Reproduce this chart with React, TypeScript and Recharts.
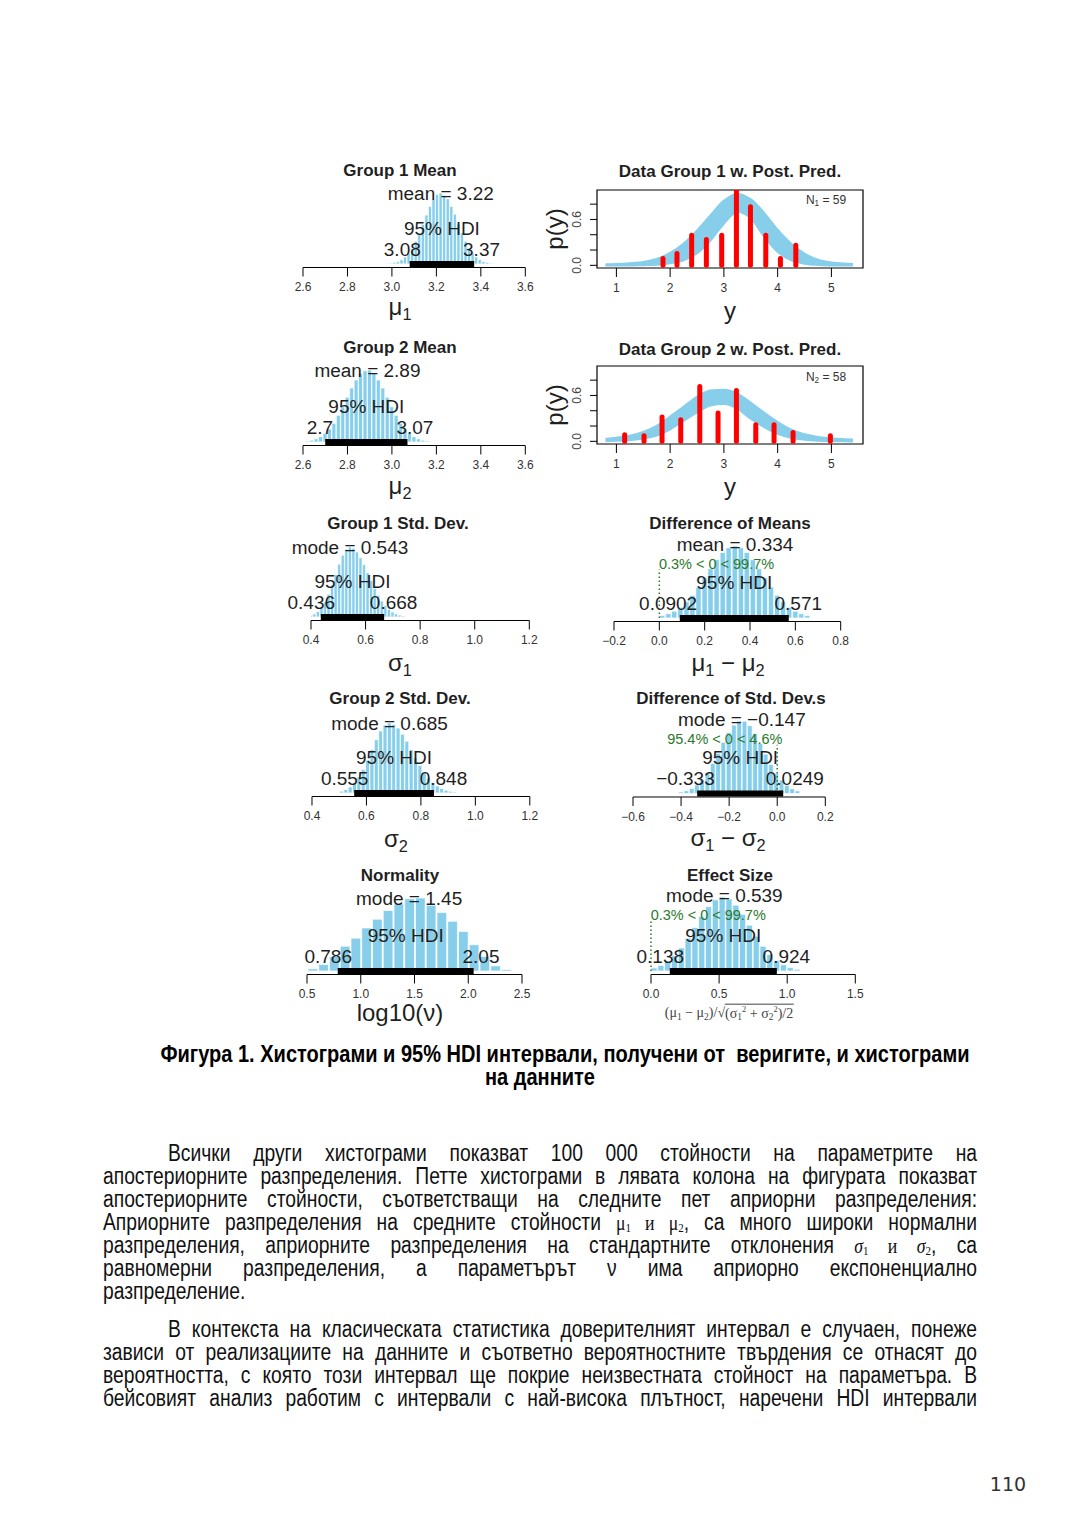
import React from "react";
import {
  ComposedChart,
  Bar,
  Area,
  XAxis,
  YAxis,
  ReferenceLine,
  ReferenceDot,
  ReferenceArea,
} from "recharts";

const SANS = '"Liberation Sans", Arial, Helvetica, sans-serif';
const SERIF = '"Liberation Serif", "DejaVu Serif", serif';
const SKY = "#87ceeb";
const INK = "#1f1f1f";
const GREEN = "#2b7a2b";
const RED = "#ff0000";

// ---- Group 1 Mean (mu1)
const mu1Bins = [2.98, 2.996, 3.012, 3.028, 3.044, 3.06, 3.076, 3.092, 3.108, 3.124, 3.14, 3.156, 3.172, 3.188, 3.204, 3.22, 3.236, 3.252, 3.268, 3.284, 3.3, 3.316, 3.332, 3.348, 3.364, 3.38, 3.396, 3.412, 3.428, 3.444, 3.46];
const mu1Counts = [0.5, 1, 2, 3.5, 6, 10, 15, 22, 32, 43, 56, 69, 81, 91, 98, 100, 97, 92, 81, 70, 56, 44, 32, 22, 15, 10, 6, 3.5, 2, 1, 0.5];
const mu1Hdi = [3.08, 3.37];

// ---- Group 2 Mean (mu2)
const mu2Bins = [2.62, 2.64, 2.66, 2.68, 2.7, 2.72, 2.74, 2.76, 2.78, 2.8, 2.82, 2.84, 2.86, 2.88, 2.9, 2.92, 2.94, 2.96, 2.98, 3.0, 3.02, 3.04, 3.06, 3.08, 3.1, 3.12, 3.14, 3.16];
const mu2Counts = [1.4, 2.5, 4.4, 7.4, 12, 18, 26, 37, 49, 62, 75, 86, 95, 99, 100, 95, 86, 75, 62, 49, 37, 26, 18, 12, 7.4, 4.4, 2.5, 1.4];
const mu2Hdi = [2.7, 3.07];
const meanTicks = [2.6, 2.8, 3.0, 3.2, 3.4, 3.6];

// ---- Group 1 Std. Dev. (sigma1)
const sd1Bins = [0.4, 0.413, 0.426, 0.439, 0.452, 0.465, 0.478, 0.491, 0.504, 0.517, 0.53, 0.543, 0.556, 0.569, 0.582, 0.595, 0.608, 0.621, 0.634, 0.647, 0.66, 0.673, 0.686, 0.699, 0.712, 0.725, 0.738];
const sd1Counts = [2.3, 4.4, 8, 13.5, 21.6, 32.5, 45.8, 60.7, 75.5, 88.2, 96.9, 100, 98.2, 92.9, 84.8, 74.8, 63.3, 51.7, 40.8, 31, 22.8, 16.2, 11, 7.3, 4.5, 2.8, 1.6];
const sd1Hdi = [0.436, 0.668];

// ---- Group 2 Std. Dev. (sigma2)
const sd2Bins = [0.509, 0.525, 0.541, 0.557, 0.573, 0.589, 0.605, 0.621, 0.637, 0.653, 0.669, 0.685, 0.701, 0.717, 0.733, 0.749, 0.765, 0.781, 0.797, 0.813, 0.829, 0.845, 0.861, 0.877, 0.893, 0.909, 0.925];
const sd2Counts = [2.6, 4.8, 8.5, 14.3, 22.7, 33.4, 46.9, 61.7, 76.1, 88.7, 97, 100, 98, 92.7, 84, 73.8, 61.9, 50.4, 39.2, 29.6, 21.2, 14.9, 9.9, 6.5, 4, 2.4, 1.4];
const sd2Hdi = [0.555, 0.848];
const sdTicks = [0.4, 0.6, 0.8, 1.0, 1.2];

// ---- Difference of Means
const dmBins = [0.014, 0.041, 0.067, 0.094, 0.121, 0.147, 0.174, 0.201, 0.227, 0.254, 0.281, 0.307, 0.334, 0.361, 0.387, 0.414, 0.441, 0.467, 0.494, 0.521, 0.547, 0.574, 0.601, 0.627, 0.654];
const dmCounts = [3.4, 5.9, 9.5, 14.9, 22.4, 31.5, 42.9, 55.8, 68.5, 81, 91, 97.6, 100, 97.6, 91, 81, 68.5, 55.8, 42.9, 31.5, 22.4, 14.9, 9.5, 5.9, 3.4];
const dmHdi = [0.0902, 0.571];
const dmTicks = [-0.2, 0.0, 0.2, 0.4, 0.6, 0.8];

// ---- Difference of Std. Dev.s
const dsBins = [-0.399, -0.377, -0.355, -0.333, -0.311, -0.289, -0.267, -0.245, -0.223, -0.201, -0.179, -0.157, -0.135, -0.113, -0.091, -0.069, -0.047, -0.025, -0.003, 0.019, 0.041, 0.063, 0.085];
const dsCounts = [2, 3.8, 6.9, 11.8, 19, 28.8, 41.2, 55.2, 70.2, 83.5, 93.8, 99.4, 99.1, 93, 82.4, 68.5, 54, 39.7, 27.8, 18.4, 11.3, 6.6, 3.6];
const dsHdi = [-0.333, 0.0249];
const dsTicks = [-0.6, -0.4, -0.2, 0.0, 0.2];

// ---- Normality log10(nu)
const nuBins = [0.55, 0.65, 0.75, 0.85, 0.95, 1.05, 1.15, 1.25, 1.35, 1.45, 1.55, 1.65, 1.75, 1.85, 1.95, 2.05, 2.15, 2.25, 2.35];
const nuCounts = [3, 9, 20, 34, 45, 59, 71, 83, 92, 99, 100, 90, 80, 68, 54, 36, 20, 7, 2];
const nuHdi = [0.786, 2.05];
const nuTicks = [0.5, 1.0, 1.5, 2.0, 2.5];

// ---- Effect Size
const esBins = [0.025, 0.075, 0.125, 0.175, 0.225, 0.275, 0.325, 0.375, 0.425, 0.475, 0.525, 0.575, 0.625, 0.675, 0.725, 0.775, 0.825, 0.875, 0.925, 0.975, 1.025, 1.075];
const esCounts = [4.1, 7.5, 12.8, 20.6, 31.2, 44.3, 58.9, 73.8, 86.9, 96.2, 100, 97.4, 89, 76.6, 61.9, 47, 33.5, 22.4, 14.1, 8.3, 4.6, 2.4];
const esHdi = [0.138, 0.924];
const esTicks = [0.0, 0.5, 1.0, 1.5];

// ---- Posterior predictive bands (envelope of the blue curves) + data histograms
const ppX = [0.8, 1.0, 1.25, 1.5, 1.75, 2.0, 2.25, 2.5, 2.75, 3.0, 3.25, 3.5, 3.75, 4.0, 4.25, 4.5, 4.75, 5.0, 5.25, 5.4];
const pp1Hi = [0.01, 0.015, 0.025, 0.04, 0.08, 0.16, 0.28, 0.45, 0.65, 0.84, 0.93, 0.86, 0.68, 0.46, 0.28, 0.15, 0.07, 0.035, 0.02, 0.015];
const pp1Lo = [0, 0, 0, 0.005, 0.01, 0.03, 0.07, 0.16, 0.33, 0.55, 0.7, 0.62, 0.38, 0.18, 0.07, 0.025, 0.008, 0.002, 0, 0];
const pp2Hi = [0.03, 0.045, 0.07, 0.12, 0.2, 0.32, 0.45, 0.58, 0.66, 0.67, 0.62, 0.5, 0.37, 0.25, 0.15, 0.09, 0.055, 0.035, 0.025, 0.02];
const pp2Lo = [0.005, 0.01, 0.02, 0.04, 0.08, 0.16, 0.27, 0.38, 0.47, 0.49, 0.43, 0.3, 0.19, 0.1, 0.05, 0.025, 0.012, 0.006, 0.003, 0.002];
const d1X = [1.867, 2.127, 2.4, 2.674, 2.959, 3.233, 3.494, 3.779, 4.052, 4.338];
const d1H = [0.088, 0.153, 0.394, 0.337, 0.394, 0.98, 0.765, 0.394, 0.088, 0.262];
const d2X = [1.154, 1.514, 1.849, 2.197, 2.551, 2.891, 3.233, 3.593, 3.933, 4.287, 4.981];
const d2H = [0.087, 0.074, 0.318, 0.283, 0.717, 0.37, 0.665, 0.218, 0.218, 0.117, 0.074];
const ppXTicks = [1, 2, 3, 4, 5];
const ppYTicks = [0, 0.2, 0.4, 0.6, 0.8];
const ppYLabels = [0, 0.6];
const PP_XDOM: [number, number] = [0.639, 5.588];
const PP_YDOM: [number, number] = [-0.035, 0.985];

let ctx: CanvasRenderingContext2D | null = null;
function textWidth(t: string, size: number) {
  if (!ctx) ctx = document.createElement("canvas").getContext("2d");
  if (!ctx) return t.length * size * 0.55;
  ctx.font = `${size}px "Liberation Sans", Arial, sans-serif`;
  return ctx.measureText(t).width;
}

const fmt1 = (v: number) => (v < 0 ? "\u2212" : "") + Math.abs(v).toFixed(1);

// R-style text() with horizontal adj, lifted `lift` px above the anchor point
const lbl =
  (text: string, adj: number, lift: number, size: number, fill: string) =>
  (p: any) => {
    const vb = p.viewBox || {};
    const cx = (vb.x ?? 0) + (vb.width ?? 0) / 2;
    const cy = (vb.y ?? 0) + (vb.height ?? 0) / 2;
    const w = textWidth(text, size);
    return (
      <text x={cx - adj * w} y={cy - lift} fontSize={size} fontFamily={SANS} fill={fill}>
        {text}
      </text>
    );
  };

function Hist(props: {
  bins: number[];
  counts: number[];
  binWidth: number;
  domain: [number, number];
  ticks: number[];
  x0: number;
  x1: number;
  axisY: number;
  peakPx: number;
  center: number;
  centerText: string;
  hdi: number[];
  hdiText: string[];
  comp?: { below: number; text: string };
}) {
  const ML = 50, MR = 50, MT = 40, XH = 40, GAP = 3.5;
  const plotW = props.x1 - props.x0;
  const top = Math.max(...props.counts);
  const k = props.peakPx / top;
  const plotH = props.peakPx + GAP;
  const data = props.bins.map((x, i) => ({ x, h: props.counts[i] }));
  const barSize = (props.binWidth / (props.domain[1] - props.domain[0])) * plotW;
  const [lo, hi] = props.hdi;
  // keep the central-tendency label clear of the green comparison label
  const centerLift = props.comp ? 2.5 : 0;
  return (
    <div style={{ position: "absolute", left: props.x0 - ML, top: props.axisY - plotH - MT }}>
      <ComposedChart
        width={ML + plotW + MR}
        height={MT + plotH + XH}
        data={data}
        margin={{ top: MT, right: MR, bottom: 0, left: ML }}
      >
        <XAxis
          type="number"
          dataKey="x"
          domain={props.domain}
          ticks={props.ticks}
          interval={0}
          allowDataOverflow
          height={XH}
          tickSize={9}
          tickMargin={6}
          tickFormatter={fmt1}
          tick={{ fill: "#333", fontSize: 12, fontFamily: SANS }}
          axisLine={{ stroke: "#000" }}
          tickLine={{ stroke: "#000" }}
        />
        <YAxis type="number" hide domain={[-GAP / k, top]} allowDataOverflow />
        <Bar dataKey="h" fill={SKY} stroke="#fff" strokeWidth={0.7} barSize={barSize} isAnimationActive={false} />
        {props.comp && (
          <ReferenceLine
            segment={[{ x: 0, y: 0 }, { x: 0, y: 0.672 * top }]}
            stroke={GREEN}
            strokeWidth={1.5}
            strokeDasharray="1.5 2.5"
          />
        )}
        <ReferenceLine segment={[{ x: lo, y: 0 }, { x: hi, y: 0 }]} stroke="#000" strokeWidth={6} />
        <ReferenceDot x={props.center} y={0.9 * top} r={0} stroke="none" fill="none" label={lbl(props.centerText, 0.5, centerLift, 19, INK)} />
        {props.comp && (
          <ReferenceDot x={0} y={0.7 * top} r={0} stroke="none" fill="none" label={lbl(props.comp.text, props.comp.below / 100, -1, 14.5, GREEN)} />
        )}
        <ReferenceDot x={(lo + hi) / 2} y={0} r={0} stroke="none" fill="none" label={lbl("95% HDI", 0.5, 29, 19, INK)} />
        <ReferenceDot x={lo} y={0} r={0} stroke="none" fill="none" label={lbl(props.hdiText[0], 0.7, 8, 19, INK)} />
        <ReferenceDot x={hi} y={0} r={0} stroke="none" fill="none" label={lbl(props.hdiText[1], 0.3, 8, 19, INK)} />
      </ComposedChart>
    </div>
  );
}

const rotTick = (p: any) => {
  const { x, y, payload } = p;
  const v = payload.value;
  if (!ppYLabels.some((t) => Math.abs(t - v) < 1e-9)) return <g />;
  return (
    <text x={x} y={y} transform={`rotate(-90 ${x} ${y})`} textAnchor="middle" fontSize={12} fontFamily={SANS} fill="#444">
      {v.toFixed(1)}
    </text>
  );
};

function PostPred(props: {
  left: number;
  right: number;
  top: number;
  bottom: number;
  lo: number[];
  hi: number[];
  dataX: number[];
  dataH: number[];
}) {
  const ML = 60, MR = 10, MT = 10, XH = 40;
  const plotW = props.right - props.left;
  const plotH = props.bottom - props.top;
  const rows = ppX.map((x, i) => ({ x, band: [props.lo[i], props.hi[i]] }));
  return (
    <div style={{ position: "absolute", left: props.left - ML, top: props.top - MT }}>
      <ComposedChart width={ML + plotW + MR} height={MT + plotH + XH} data={rows} margin={{ top: MT, right: MR, bottom: 0, left: 0 }}>
        <XAxis
          type="number"
          dataKey="x"
          domain={PP_XDOM}
          ticks={ppXTicks}
          interval={0}
          allowDataOverflow
          height={XH}
          tickSize={9}
          tickMargin={6}
          axisLine={false}
          tickLine={{ stroke: "#000" }}
          tick={{ fill: "#333", fontSize: 12, fontFamily: SANS }}
        />
        <YAxis
          type="number"
          domain={PP_YDOM}
          ticks={ppYTicks}
          interval={0}
          allowDataOverflow
          width={ML}
          tickSize={7}
          tickMargin={9}
          axisLine={false}
          tickLine={{ stroke: "#000" }}
          tick={rotTick}
        />
        <Area
          dataKey="band"
          type="monotone"
          stroke={SKY}
          strokeWidth={2.5}
          fill={SKY}
          fillOpacity={1}
          dot={false}
          activeDot={false}
          isAnimationActive={false}
        />
        {props.dataX.map((x, i) => (
          <ReferenceLine
            key={i}
            segment={[{ x, y: 0 }, { x, y: props.dataH[i] }]}
            stroke={RED}
            strokeWidth={5}
            strokeLinecap="round"
            ifOverflow="hidden"
          />
        ))}
        <ReferenceArea
          x1={PP_XDOM[0]}
          x2={PP_XDOM[1]}
          y1={PP_YDOM[0]}
          y2={PP_YDOM[1]}
          fill="none"
          fillOpacity={0}
          stroke="#000"
          strokeWidth={1.2}
          ifOverflow="visible"
        />
      </ComposedChart>
    </div>
  );
}

function T(props: any) {
  const { x, y, size, weight, color = INK, family = SANS, rotate, children, style } = props;
  return (
    <div
      style={{
        position: "absolute",
        left: x,
        top: y,
        transform: `translate(-50%, -50%)${rotate ? ` rotate(${rotate}deg)` : ""}`,
        fontSize: size,
        fontWeight: weight,
        color,
        fontFamily: family,
        whiteSpace: "nowrap",
        lineHeight: 1,
        ...style,
      }}
    >
      {children}
    </div>
  );
}

const sub = { fontSize: "0.68em", verticalAlign: "-0.28em", lineHeight: 0 };
const mu = (n: number) => (
  <span>
    μ<span style={sub}>{n}</span>
  </span>
);
const sg = (n: number) => (
  <span>
    σ<span style={sub}>{n}</span>
  </span>
);

// body text set in a narrow sans (Arial Narrow look)
const BODY_SIZE = 23.5;
const NARROW = 0.82;
function Line(props: { x: number; y: number; w: number; justify?: boolean; children: React.ReactNode }) {
  const j = props.justify !== false;
  return (
    <div
      style={{
        position: "absolute",
        left: props.x,
        top: props.y - 11,
        width: props.w / NARROW,
        height: 22,
        transform: `scaleX(${NARROW})`,
        transformOrigin: "0 0",
        fontSize: BODY_SIZE,
        lineHeight: "22px",
        color: "#111",
        textAlign: j ? "justify" : "left",
        textAlignLast: j ? "justify" : "left",
      }}
    >
      {props.children}
    </div>
  );
}

// math symbols inside the paragraph: serif, subscripts nudged without growing the line box
const mathSpan = { fontFamily: SERIF, fontSize: "0.92em", lineHeight: "16px" };
const mathSub = { fontSize: "0.62em", position: "relative" as const, top: "0.15em", lineHeight: "10px" };
const CAP_NARROW = 0.87;

export default function App() {
  return (
    <div
      style={{
        position: "absolute",
        left: 0,
        top: 0,
        width: 1080,
        height: 1527,
        background: "#fff",
        overflow: "hidden",
        fontFamily: SANS,
        color: INK,
      }}
    >
      <Hist bins={mu1Bins} counts={mu1Counts} binWidth={0.016} domain={[2.6, 3.6]} ticks={meanTicks} x0={302.7} x1={525} axisY={267.5} peakPx={71} center={3.22} centerText="mean = 3.22" hdi={mu1Hdi} hdiText={["3.08", "3.37"]} />
      <Hist bins={mu2Bins} counts={mu2Counts} binWidth={0.02} domain={[2.6, 3.6]} ticks={meanTicks} x0={302.7} x1={525} axisY={445} peakPx={72} center={2.89} centerText="mean = 2.89" hdi={mu2Hdi} hdiText={["2.7", "3.07"]} />
      <Hist bins={sd1Bins} counts={sd1Counts} binWidth={0.013} domain={[0.4, 1.2]} ticks={sdTicks} x0={311} x1={529.3} axisY={620.5} peakPx={70} center={0.543} centerText="mode = 0.543" hdi={sd1Hdi} hdiText={["0.436", "0.668"]} />
      <Hist bins={dmBins} counts={dmCounts} binWidth={0.0267} domain={[-0.2, 0.8]} ticks={dmTicks} x0={614} x1={840.7} axisY={621} peakPx={72} center={0.334} centerText="mean = 0.334" hdi={dmHdi} hdiText={["0.0902", "0.571"]} comp={{ below: 0.3, text: "0.3% < 0 < 99.7%" }} />
      <Hist bins={sd2Bins} counts={sd2Counts} binWidth={0.016} domain={[0.4, 1.2]} ticks={sdTicks} x0={311.5} x1={529.3} axisY={796} peakPx={70} center={0.685} centerText="mode = 0.685" hdi={sd2Hdi} hdiText={["0.555", "0.848"]} />
      <Hist bins={dsBins} counts={dsCounts} binWidth={0.022} domain={[-0.6, 0.2]} ticks={dsTicks} x0={632.7} x1={825} axisY={796.5} peakPx={72.5} center={-0.147} centerText={"mode = \u22120.147"} hdi={dsHdi} hdiText={["\u22120.333", "0.0249"]} comp={{ below: 95.4, text: "95.4% < 0 < 4.6%" }} />
      <Hist bins={nuBins} counts={nuCounts} binWidth={0.1} domain={[0.5, 2.5]} ticks={nuTicks} x0={306.7} x1={521.7} axisY={974} peakPx={73} center={1.45} centerText="mode = 1.45" hdi={nuHdi} hdiText={["0.786", "2.05"]} />
      <Hist bins={esBins} counts={esCounts} binWidth={0.05} domain={[0, 1.5]} ticks={esTicks} x0={650.7} x1={855} axisY={974} peakPx={74} center={0.539} centerText="mode = 0.539" hdi={esHdi} hdiText={["0.138", "0.924"]} comp={{ below: 0.3, text: "0.3% < 0 < 99.7%" }} />

      <PostPred left={597.3} right={863.3} top={190} bottom={268} lo={pp1Lo} hi={pp1Hi} dataX={d1X} dataH={d1H} />
      <PostPred left={597.3} right={863.3} top={366} bottom={444} lo={pp2Lo} hi={pp2Hi} dataX={d2X} dataH={d2H} />

      {/* panel titles */}
      <T x={400} y={170} size={17} weight="bold">Group 1 Mean</T>
      <T x={730} y={171} size={17} weight="bold">Data Group 1 w. Post. Pred.</T>
      <T x={400} y={347} size={17} weight="bold">Group 2 Mean</T>
      <T x={730} y={349} size={17} weight="bold">Data Group 2 w. Post. Pred.</T>
      <T x={398} y={523} size={17} weight="bold">Group 1 Std. Dev.</T>
      <T x={730} y={523} size={17} weight="bold">Difference of Means</T>
      <T x={400} y={698} size={17} weight="bold">Group 2 Std. Dev.</T>
      <T x={731} y={698} size={17} weight="bold">Difference of Std. Dev.s</T>
      <T x={400} y={875} size={17} weight="bold">Normality</T>
      <T x={730} y={875} size={17} weight="bold">Effect Size</T>

      {/* axis titles */}
      <T x={400} y={307} size={24}>{mu(1)}</T>
      <T x={730} y={311} size={24}>y</T>
      <T x={400} y={486} size={24}>{mu(2)}</T>
      <T x={730} y={487} size={24}>y</T>
      <T x={400} y={663} size={24}>{sg(1)}</T>
      <T x={728} y={663} size={24}>{mu(1)} − {mu(2)}</T>
      <T x={396} y={839} size={24}>{sg(2)}</T>
      <T x={728} y={838} size={24}>{sg(1)} − {sg(2)}</T>
      <T x={400} y={1013} size={24}>log10(ν)</T>
      <T x={729} y={1013} size={14} family={SERIF} color="#444">
        (μ<span style={sub}>1</span> − μ<span style={sub}>2</span>)/√
        <span style={{ borderTop: "1px solid #444", paddingTop: 1 }}>
          (σ<span style={sub}>1</span><sup style={{ fontSize: "0.6em" }}>2</sup> + σ<span style={sub}>2</span>
          <sup style={{ fontSize: "0.6em" }}>2</sup>)/2
        </span>
      </T>
      <T x={555} y={229} size={24} rotate={-90}>p(y)</T>
      <T x={555} y={405} size={24} rotate={-90}>p(y)</T>
      <T x={826} y={200} size={12} color="#333">
        N<span style={sub}>1</span> = 59
      </T>
      <T x={826} y={377} size={12} color="#333">
        N<span style={sub}>2</span> = 58
      </T>

      {/* caption */}
      <T x={565} y={1054} size={23} weight="bold" color="#000" style={{ transform: `translate(-50%, -50%) scaleX(${CAP_NARROW})`, whiteSpace: "pre" }}>
        {"Фигура 1. Хистограми и 95% HDI интервали, получени от  веригите, и хистограми"}
      </T>
      <T x={540} y={1077} size={23} weight="bold" color="#000" style={{ transform: `translate(-50%, -50%) scaleX(${CAP_NARROW})` }}>
        на данните
      </T>

      {/* body text */}
      <Line x={168} y={1153} w={809}>Всички други хистограми показват 100 000 стойности на параметрите на</Line>
      <Line x={103} y={1176} w={874}>апостериорните разпределения. Петте хистограми в лявата колона на фигурата показват</Line>
      <Line x={103} y={1199} w={874}>апостериорните стойности, съответстващи на следните пет априорни разпределения:</Line>
      <Line x={103} y={1222} w={874}>
        Априорните разпределения на средните стойности{" "}
        <span style={mathSpan}>
          μ<span style={mathSub}>1</span> и μ<span style={mathSub}>2</span>
        </span>
        , са много широки нормални
      </Line>
      <Line x={103} y={1245} w={874}>
        разпределения, априорните разпределения на стандартните отклонения{" "}
        <span style={mathSpan}>
          <i>σ</i>
          <span style={mathSub}>1</span> и <i>σ</i>
          <span style={mathSub}>2</span>
        </span>
        , са
      </Line>
      <Line x={103} y={1268} w={874}>равномерни разпределения, а параметърът ν има априорно експоненциално</Line>
      <Line x={103} y={1291} w={874} justify={false}>разпределение.</Line>
      <Line x={168} y={1329} w={809}>В контекста на класическата статистика доверителният интервал е случаен, понеже</Line>
      <Line x={103} y={1352} w={874}>зависи от реализациите на данните и съответно вероятностните твърдения се отнасят до</Line>
      <Line x={103} y={1375} w={874}>вероятността, с която този интервал ще покрие неизвестната стойност на параметъра. В</Line>
      <Line x={103} y={1398} w={874}>бейсовият анализ работим с интервали с най-висока плътност, наречени HDI интервали</Line>

      <T x={1008} y={1484} size={19} family='"DejaVu Sans", Verdana, sans-serif' color="#333">110</T>
    </div>
  );
}
